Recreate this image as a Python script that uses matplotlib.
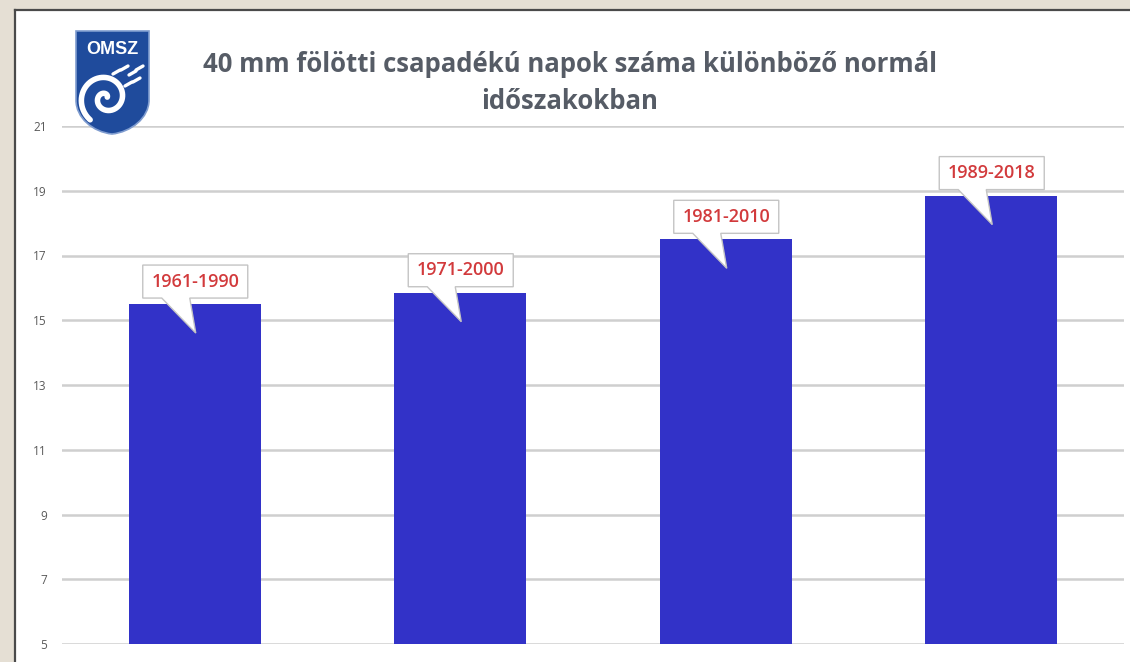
import numpy as np
import matplotlib
matplotlib.use("Agg")
import matplotlib.pyplot as plt
import matplotlib.transforms as mtransforms
from matplotlib.patches import Polygon, Rectangle, PathPatch
from matplotlib.path import Path

# 40 mm feletti csapadékú napok száma normál időszakonként
periods = ["1961-1990", "1971-2000", "1981-2010", "1989-2018"]
days = [15.5, 15.85, 17.5, 18.85]
yticks = [5, 7, 9, 11, 13, 15, 17, 19, 21]
title = "40 mm fölötti csapadékú napok száma különböző normál\nidőszakokban"

W, H = 1130, 662
BAR_COLOR = "#3232c8"
LABEL_RED = "#d23a3c"
TITLE_GRAY = "#565c66"
BG = "#e5dfd4"

plt.rcParams["font.family"] = ["Open Sans", "DejaVu Sans"]


def px(x, y):
    """pixel (top-left origin) -> figure fraction"""
    return x / W, 1 - y / H


fig = plt.figure(figsize=(W / 100, H / 100), dpi=100)
fig.patch.set_facecolor(BG)

# white panel with a dark frame on top/left
x0, y0 = px(15, 10)
fig.add_artist(Rectangle((x0, 0), 1 - x0, y0, transform=fig.transFigure,
                         facecolor="white", edgecolor="none", zorder=0))
fig.add_artist(plt.Line2D([x0, x0], [0, y0], transform=fig.transFigure,
                          color="#4a4a4a", lw=1.6, zorder=1))
fig.add_artist(plt.Line2D([x0, 1], [y0, y0], transform=fig.transFigure,
                          color="#4a4a4a", lw=1.6, zorder=1))

# axes: x from 62 to 1124 px, y=5 at 644 px, y=21 at 126 px
left, bottom = px(62, 644)
right, top = px(1124, 126)
ax = fig.add_axes([left, bottom, right - left, top - bottom])
ax.set_facecolor("none")
ax.set_xlim(-0.5, 3.5)
ax.set_ylim(5, 21)
ax.set_yticks(yticks)
ax.set_yticklabels([str(t) for t in yticks], fontsize=8.5, color="#5a5a5a")
ax.tick_params(axis="y", length=0, pad=11)
ax.set_xticks([])
for s in ax.spines.values():
    s.set_visible(False)
ax.grid(axis="y", color="#cfcfcf", lw=1.8)
ax.set_axisbelow(True)

x = np.arange(len(periods))
ax.bar(x, [d - 5 for d in days], bottom=5, width=0.496, color=BAR_COLOR,
       zorder=2, clip_on=False)

# callout labels (offsets in pixels from the bar top centre)
box = [(-52, 6), (-33, 6), (1, -29), (-5, 6), (53, 6), (53, 39), (-52, 39)]
for xi, v, lab in zip(x, days, periods):
    tr = fig.dpi_scale_trans + mtransforms.ScaledTranslation(xi, v, ax.transData)
    verts = [(a / 100, b / 100) for a, b in box]
    ax.add_patch(Polygon(verts, closed=True, transform=tr, facecolor="white",
                         edgecolor="#c4c4c4", lw=1.0, zorder=3, clip_on=False))
    ax.text(0.005, 0.225, lab, transform=tr, ha="center", va="center",
            fontsize=13, fontweight="semibold", color=LABEL_RED, zorder=4)

# title
tx, ty = px(570, 83)
fig.text(tx, ty, title, ha="center", va="center", fontsize=18.5,
         fontweight="bold", color=TITLE_GRAY, linespacing=1.45)

# OMSZ shield logo
shield = [(76, 31), (149, 31), (149, 100), (149, 118), (131, 132), (112, 134),
          (93, 132), (76, 118), (76, 100), (76, 31)]
codes = [Path.MOVETO, Path.LINETO, Path.LINETO, Path.CURVE4, Path.CURVE4,
         Path.CURVE4, Path.CURVE4, Path.CURVE4, Path.CURVE4, Path.CLOSEPOLY]
shield_path = Path([px(a, b) for a, b in shield], codes)
fig.add_artist(PathPatch(shield_path, transform=fig.transFigure,
                         facecolor="#1f4b9c", edgecolor="#7f9ccf", lw=1.2, zorder=5))
ox, oy = px(112.5, 50)
fig.text(ox, oy, "OMSZ", ha="center", va="center", fontsize=13,
         fontweight="bold", color="white", family=["Liberation Sans", "DejaVu Sans"],
         zorder=6)

# swirl
t = np.linspace(0.6, 3.3 * np.pi, 200)
r = 2.6 * t
sx = 106 + r * np.cos(t)
sy = 98 - r * np.sin(t)
fig.add_artist(plt.Line2D(*zip(*[px(a, b) for a, b in zip(sx, sy)]),
                          transform=fig.transFigure, color="white", lw=4,
                          solid_capstyle="round", zorder=6))
spray = [(117, 72), (125, 68), (133, 73), (137, 80), (140, 68), (129, 84)]
for a, b in spray:
    fig.add_artist(plt.Line2D(*zip(px(a - 4, b + 2), px(a + 3, b - 2)),
                              transform=fig.transFigure, color="white", lw=2.4,
                              solid_capstyle="round", zorder=6))

fig.savefig("out.png", dpi=100, facecolor=BG)
